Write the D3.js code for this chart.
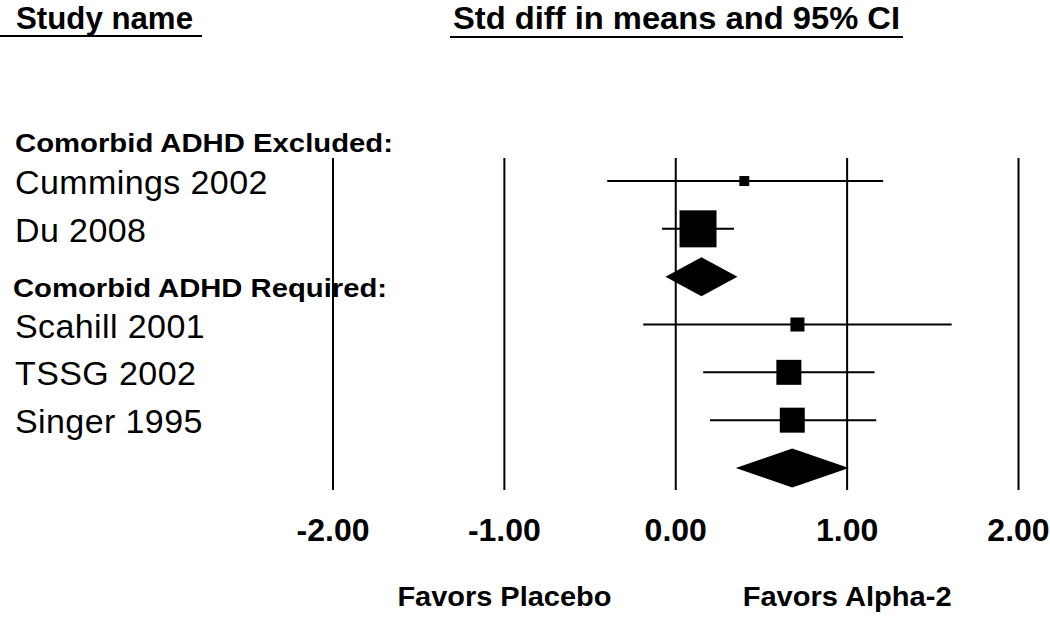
<!DOCTYPE html>
<html>
<head>
<meta charset="utf-8">
<script src="https://cdn.jsdelivr.net/npm/d3@7"></script>
<style>
  html, body { margin: 0; padding: 0; background: #fff; }
  svg { display: block; font-family: "Liberation Sans", Arial, sans-serif; }
</style>
</head>
<body>
<svg id="chart" width="1050" height="617"></svg>
<script>
// ---- data ----
const groupLabels = ["Comorbid ADHD Excluded:", "Comorbid ADHD Required:"];
const studyNames = ["Cummings 2002", "Du 2008", "Scahill 2001", "TSSG 2002", "Singer 1995"];
const studyGroup = [0, 0, 1, 1, 1];
const studyEffect = [0.40, 0.13, 0.71, 0.66, 0.68];
const studyLower = [-0.40, -0.08, -0.19, 0.16, 0.20];
const studyUpper = [1.21, 0.34, 1.61, 1.16, 1.17];
const studyWeight = [3.6, 50.0, 7.2, 22.8, 22.8];
const summaryEffect = [0.15, 0.68];
const summaryLower = [-0.06, 0.35];
const summaryUpper = [0.36, 1.01];
const tickValues = [-2, -1, 0, 1, 2];
const favorsLabels = ["Favors Placebo", "Favors Alpha-2"];
const favorsAt = [-1, 1];
const columnTitles = ["Study name", "Std diff in means and 95% CI"];

// ---- layout ----
const svg = d3.select("#chart");
const x = d3.scaleLinear().domain([-2, 2]).range([333, 1018.5]);
const y = d3.scaleLinear().domain([1, 7]).range([181, 468]);
const side = d3.scaleSqrt().domain([0, d3.max(studyWeight)]).range([0, 37]);
const fmt = d3.formatLocale({ decimal: ".", thousands: ",", grouping: [3], currency: ["$", ""], minus: "-" }).format(".2f");

// build row sequence: header, studies, summary per group
const rows = [];
let r = 1;
groupLabels.forEach((g, gi) => {
  rows.push({ type: "header", label: g, row: r - 0.8 + gi * 0.03, gi });
  studyNames.forEach((n, i) => {
    if (studyGroup[i] === gi) {
      rows.push({ type: "study", label: n, row: r, es: studyEffect[i], lo: studyLower[i], hi: studyUpper[i], w: studyWeight[i] });
      r++;
    }
  });
  rows.push({ type: "summary", row: r, es: summaryEffect[gi], lo: summaryLower[gi], hi: summaryUpper[gi] });
  r++;
});

// column titles with underlines
svg.append("text").attr("x", 16).attr("y", 29)
  .attr("font-size", 32).attr("font-weight", "bold")
  .attr("textLength", 177).attr("lengthAdjust", "spacingAndGlyphs")
  .text(columnTitles[0]);
svg.append("line").attr("x1", 0).attr("x2", 202).attr("y1", 36).attr("y2", 36)
  .attr("stroke", "#000").attr("stroke-width", 2);
svg.append("text").attr("x", 453).attr("y", 29)
  .attr("font-size", 32).attr("font-weight", "bold")
  .attr("textLength", 447).attr("lengthAdjust", "spacingAndGlyphs")
  .text(columnTitles[1]);
svg.append("line").attr("x1", 450).attr("x2", 903).attr("y1", 37).attr("y2", 37)
  .attr("stroke", "#000").attr("stroke-width", 2);

// vertical reference lines
svg.append("g").selectAll("line").data(tickValues).join("line")
  .attr("x1", d => x(d)).attr("x2", d => x(d))
  .attr("y1", 158).attr("y2", 490)
  .attr("stroke", "#000").attr("stroke-width", 2);

// tick labels
svg.append("g").selectAll("text").data(tickValues).join("text")
  .attr("x", d => x(d)).attr("y", 541)
  .attr("text-anchor", "middle").attr("font-size", 32).attr("font-weight", "bold")
  .text(d => fmt(d));

// favors labels
const favorsWidths = [214, 209];
svg.append("g").selectAll("text").data(favorsLabels).join("text")
  .attr("x", (d, i) => x(favorsAt[i])).attr("y", 606)
  .attr("text-anchor", "middle").attr("font-size", 27).attr("font-weight", "bold")
  .attr("textLength", (d, i) => favorsWidths[i]).attr("lengthAdjust", "spacingAndGlyphs")
  .text(d => d);

// headers
const headerWidths = [378, 374];
svg.append("g").selectAll("text").data(rows.filter(d => d.type === "header")).join("text")
  .attr("x", d => d.gi === 0 ? 15 : 13).attr("y", d => y(d.row) + 9.5)
  .attr("font-size", 25).attr("font-weight", "bold")
  .attr("textLength", d => headerWidths[d.gi]).attr("lengthAdjust", "spacingAndGlyphs")
  .text(d => d.label);

// study labels
const studies = rows.filter(d => d.type === "study");
svg.append("g").selectAll("text").data(studies).join("text")
  .attr("x", 15).attr("y", d => y(d.row) + 13)
  .attr("font-size", 34).attr("letter-spacing", 0.4)
  .text(d => d.label);

// CI lines
svg.append("g").selectAll("line").data(studies).join("line")
  .attr("x1", d => x(d.lo)).attr("x2", d => x(d.hi))
  .attr("y1", d => y(d.row)).attr("y2", d => y(d.row))
  .attr("stroke", "#000").attr("stroke-width", 2);

// squares
svg.append("g").selectAll("rect").data(studies).join("rect")
  .attr("x", d => x(d.es) - side(d.w) / 2)
  .attr("y", d => y(d.row) - side(d.w) / 2)
  .attr("width", d => side(d.w)).attr("height", d => side(d.w))
  .attr("fill", "#000");

// summary diamonds
svg.append("g").selectAll("path").data(rows.filter(d => d.type === "summary")).join("path")
  .attr("d", d => {
    const cy = y(d.row), h = 19.5;
    return `M${x(d.lo)},${cy}L${x(d.es)},${cy - h}L${x(d.hi)},${cy}L${x(d.es)},${cy + h}Z`;
  })
  .attr("fill", "#000");
</script>
</body>
</html>
